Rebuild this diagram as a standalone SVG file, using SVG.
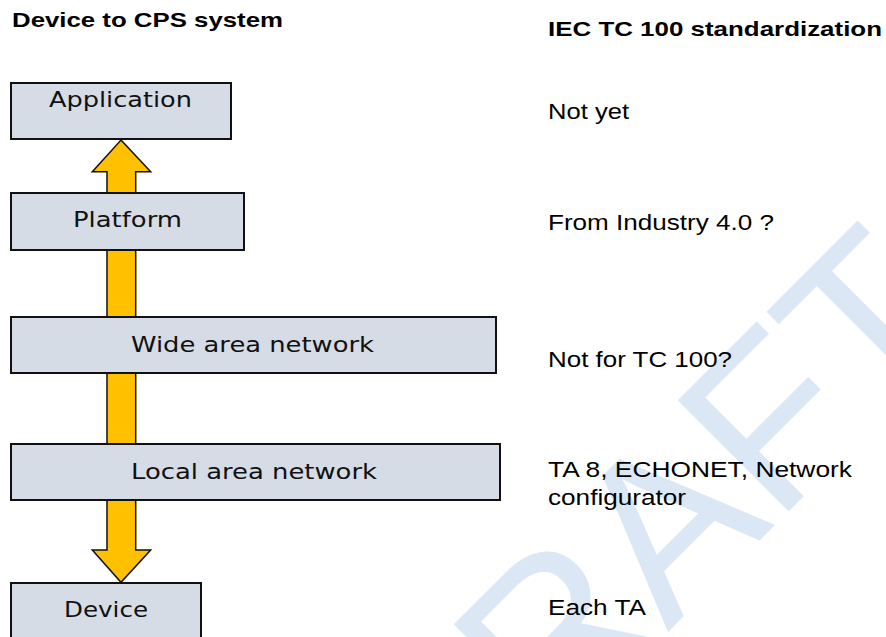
<svg xmlns="http://www.w3.org/2000/svg" width="886" height="637" viewBox="0 0 886 637">
<style>
.box{fill:#d6dce5;stroke:#111;stroke-width:2}
.lbl{font-family:"DejaVu Sans",Verdana,sans-serif;font-size:22px;fill:#111;text-anchor:start}
.note{font-family:"Liberation Sans",Arial,sans-serif;font-size:22px;fill:#000}
.title{font-family:"Liberation Sans",Arial,sans-serif;font-size:21px;font-weight:bold;fill:#000}
.arrow{fill:#ffc000;stroke:#111;stroke-width:1.5;stroke-linejoin:miter}
.wm{font-family:"Liberation Sans",Arial,sans-serif;font-size:228px;fill:#dbe7f5}
</style>
<rect width="886" height="637" fill="#fff"/>
<text class="wm" transform="translate(435,865) rotate(-45)" x="0" y="0">DRAFT</text>
<text class="title" x="12" y="27" textLength="271" lengthAdjust="spacingAndGlyphs">Device to CPS system</text>
<text class="title" x="548" y="36" textLength="334" lengthAdjust="spacingAndGlyphs">IEC TC 100 standardization</text>
<g id="connectors">
<polygon class="arrow" points="121,140 150.7,171.7 135.7,171.7 135.7,550 150.7,550 121,582.3 92.3,550 107,550 107,171.7 92.3,171.7"/>
</g>
<g id="application">
<rect class="box" x="11" y="83" width="220" height="56"/>
<text class="lbl" x="49" y="107" textLength="143" lengthAdjust="spacingAndGlyphs">Application</text>
</g>
<g id="platform">
<rect class="box" x="11" y="193" width="233" height="57"/>
<text class="lbl" x="73" y="227" textLength="109" lengthAdjust="spacingAndGlyphs">Platform</text>
</g>
<g id="wan">
<rect class="box" x="11" y="317" width="485" height="56"/>
<text class="lbl" x="131" y="352" textLength="243" lengthAdjust="spacingAndGlyphs">Wide area network</text>
</g>
<g id="lan">
<rect class="box" x="11" y="444" width="489" height="56"/>
<text class="lbl" x="131" y="479" textLength="246" lengthAdjust="spacingAndGlyphs">Local area network</text>
</g>
<g id="device">
<rect class="box" x="11" y="583" width="190" height="60"/>
<text class="lbl" x="64" y="617" textLength="84" lengthAdjust="spacingAndGlyphs">Device</text>
</g>
<g id="notes">
<text class="note" x="548" y="119" textLength="81" lengthAdjust="spacingAndGlyphs">Not yet</text>
<text class="note" x="548" y="230" textLength="226" lengthAdjust="spacingAndGlyphs">From Industry 4.0 ?</text>
<text class="note" x="548" y="367" textLength="184" lengthAdjust="spacingAndGlyphs">Not for TC 100?</text>
<text class="note" x="548" y="477" textLength="304" lengthAdjust="spacingAndGlyphs">TA 8, ECHONET, Network</text>
<text class="note" x="548" y="505" textLength="138" lengthAdjust="spacingAndGlyphs">configurator</text>
<text class="note" x="548" y="615" textLength="98" lengthAdjust="spacingAndGlyphs">Each TA</text>
</g>
</svg>
